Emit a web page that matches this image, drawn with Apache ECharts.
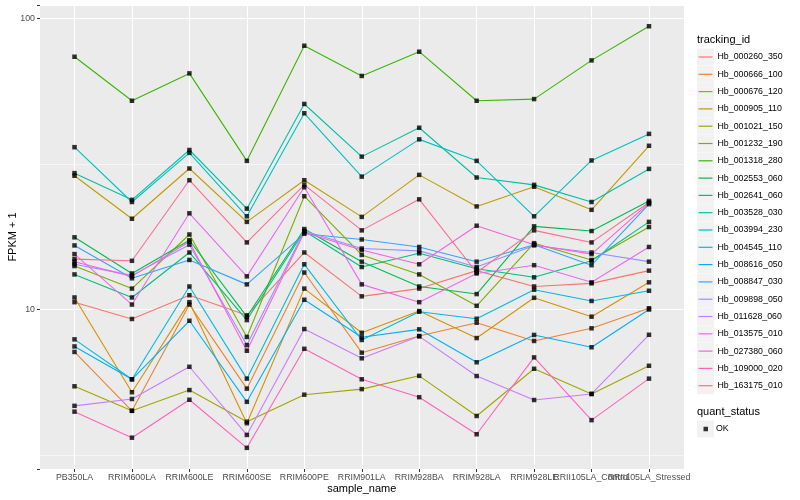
<!DOCTYPE html>
<html><head><meta charset="utf-8">
<script src="https://cdn.jsdelivr.net/npm/echarts@6/dist/echarts.min.js"></script>
<style>html,body{margin:0;padding:0;background:#fff}#c{width:800px;height:500px}</style>
</head><body><div id="c"></div>
<script>
const categories = ['PB350LA','RRIM600LA','RRIM600LE','RRIM600SE','RRIM600PE','RRIM901LA','RRIM928BA','RRIM928LA','RRIM928LE','RRII105LA_Control','RRII105LA_Stressed'];

const Hb_000260_350 = [10.6, 9.28, 11.2, 9.55, 15.7, 11.1, 11.8, 13.6, 12.0, 12.3, 13.6];
const Hb_000666_100 = [7.15, 4.49, 10.4, 5.35, 13.4, 7.11, 8.11, 9.01, 7.80, 8.62, 10.1];
const Hb_000676_120 = [11.0, 5.20, 10.6, 4.07, 11.8, 8.32, 9.88, 7.98, 10.97, 9.45, 12.4];
const Hb_000905_110 = [28.8, 20.5, 30.5, 20.0, 27.8, 20.8, 29.0, 22.6, 26.4, 22.0, 36.5];
const Hb_001021_150 = [5.45, 4.49, 5.29, 4.12, 5.10, 5.33, 5.92, 4.31, 6.26, 5.13, 6.41];
const Hb_001232_190 = [14.1, 11.8, 18.1, 8.05, 24.5, 15.4, 13.2, 10.3, 16.9, 14.8, 19.2];
const Hb_001318_280 = [73.8, 52.1, 64.7, 32.4, 80.5, 63.4, 76.8, 52.1, 52.8, 71.7, 93.9];
const Hb_002553_060 = [17.7, 13.3, 17.3, 9.45, 18.9, 14.6, 12.0, 11.3, 19.3, 18.6, 23.6];
const Hb_002641_060 = [13.2, 11.0, 15.7, 9.2, 18.6, 14.0, 15.6, 13.8, 12.9, 14.7, 20.0];
const Hb_003528_030 = [29.4, 23.8, 35.3, 22.2, 50.8, 33.5, 42.1, 28.4, 26.8, 23.4, 30.4];
const Hb_003994_230 = [36.1, 23.4, 34.5, 20.9, 47.2, 28.6, 38.4, 32.4, 20.9, 32.5, 40.1];
const Hb_004545_110 = [7.9, 5.76, 12.0, 5.79, 14.3, 7.86, 9.83, 9.30, 11.7, 10.7, 11.6];
const Hb_008616_050 = [7.47, 5.76, 9.15, 4.82, 10.8, 8.03, 8.55, 6.59, 8.18, 7.42, 10.0];
const Hb_008847_030 = [16.6, 12.8, 14.8, 12.2, 18.2, 17.4, 16.4, 14.6, 16.7, 14.2, 23.0];
const Hb_009898_050 = [14.3, 13.1, 16.7, 7.55, 18.6, 16.2, 15.9, 14.0, 16.6, 15.7, 14.6];
const Hb_011628_060 = [4.67, 4.93, 6.36, 3.71, 8.57, 6.80, 8.09, 5.91, 4.89, 5.13, 8.19];
const Hb_013575_010 = [15.5, 10.4, 21.4, 13.0, 26.3, 12.2, 10.6, 13.3, 14.2, 12.4, 16.4];
const Hb_027380_060 = [14.6, 13.0, 17.1, 7.22, 18.4, 16.0, 14.3, 19.4, 16.7, 15.5, 23.2];
const Hb_109000_020 = [4.46, 3.63, 4.90, 3.35, 7.33, 5.76, 5.00, 3.73, 6.85, 4.17, 5.79];
const Hb_163175_010 = [14.9, 14.7, 27.8, 17.0, 26.8, 18.7, 23.9, 13.4, 18.7, 17.0, 23.3];

const seriesNames = ['Hb_000260_350','Hb_000666_100','Hb_000676_120','Hb_000905_110','Hb_001021_150','Hb_001232_190','Hb_001318_280','Hb_002553_060','Hb_002641_060','Hb_003528_030','Hb_003994_230','Hb_004545_110','Hb_008616_050','Hb_008847_030','Hb_009898_050','Hb_011628_060','Hb_013575_010','Hb_027380_060','Hb_109000_020','Hb_163175_010'];
const seriesValues = [Hb_000260_350,Hb_000666_100,Hb_000676_120,Hb_000905_110,Hb_001021_150,Hb_001232_190,Hb_001318_280,Hb_002553_060,Hb_002641_060,Hb_003528_030,Hb_003994_230,Hb_004545_110,Hb_008616_050,Hb_008847_030,Hb_009898_050,Hb_011628_060,Hb_013575_010,Hb_027380_060,Hb_109000_020,Hb_163175_010];
const yTickLabels = ['10', '100'];
const minorGridValues = [3.1623, 31.623];
const statusNames = ['OK'];

const palette = ['#F8766D','#EA8331','#D89000','#C09B00','#A3A500','#7CAE00','#39B600','#00BB4E','#00BF7D','#00C1A3','#00BFC4','#00BAE0','#00B0F6','#35A2FF','#9590FF','#C77CFF','#E76BF3','#FA62DB','#FF62BC','#FF6C91'];

const FONT = 'Liberation Sans';
const Y_MIN = 2.834, Y_MAX = 111.1;

const chart = echarts.init(document.getElementById('c'), null, {renderer: 'canvas'});

const lineSeries = seriesNames.map((n, i) => ({
  name: n, type: 'line', xAxisIndex: 1, yAxisIndex: 1,
  data: seriesValues[i], showSymbol: false, symbol: 'none',
  lineStyle: {width: 1.1, color: palette[i]}, itemStyle: {color: palette[i]},
  z: 2, silent: true
}));

const pointData = [];
seriesValues.forEach(vals => vals.forEach((v, j) => pointData.push([categories[j], v])));

const keyBoxes = seriesNames.map((n, i) => ({
  type: 'rect', shape: {x: 697, y: 48.5 + i * 17.3, width: 17, height: 17},
  style: {fill: '#F2F2F2'}, silent: true, z: 0
}));
keyBoxes.push({type: 'rect', shape: {x: 697, y: 420.5, width: 17, height: 17}, style: {fill: '#F2F2F2'}, silent: true, z: 0});

function decadeLabel(v) {
  const s = String(Math.round(v));
  return yTickLabels.indexOf(s) >= 0 && Math.abs(v - Math.round(v)) < 1e-6 ? s : '';
}

const option = {
  animation: false,
  backgroundColor: '#fff',
  textStyle: {fontFamily: FONT},
  title: [
    {text: 'tracking_id', left: 697, top: 34, padding: 0, textStyle: {fontSize: 11, fontWeight: 'normal', color: '#000', fontFamily: FONT}},
    {text: 'quant_status', left: 697, top: 406, padding: 0, textStyle: {fontSize: 11, fontWeight: 'normal', color: '#000', fontFamily: FONT}}
  ],
  graphic: keyBoxes,
  legend: [
    {data: seriesNames, orient: 'vertical', left: 698.5, top: 48.5, padding: 0, itemGap: 0.3,
     itemWidth: 14, itemHeight: 17, icon: 'path://M0,0h14v1.2H0z', selectedMode: false,
     itemStyle: {borderWidth: 0},
     textStyle: {fontSize: 8.8, color: '#000', fontFamily: FONT, lineHeight: 17}},
    {data: statusNames, orient: 'vertical', left: 703.5, top: 420.5, padding: 0,
     itemWidth: 4.5, itemHeight: 4.5, icon: 'rect', selectedMode: false,
     itemStyle: {borderWidth: 0},
     textStyle: {fontSize: 8.8, color: '#000', fontFamily: FONT, lineHeight: 17, padding: [0, 0, 0, 3]}}
  ],
  grid: [
    {left: 40, right: 116, top: 5, bottom: 31, show: true, backgroundColor: '#EBEBEB', borderWidth: 0, containLabel: false, outerBoundsMode: 'none'},
    {left: 74.5, right: 151, top: 5, bottom: 31, show: false, containLabel: false, outerBoundsMode: 'none'}
  ],
  xAxis: [
    {gridIndex: 0, type: 'category', data: categories, show: false},
    {gridIndex: 1, type: 'category', data: categories, boundaryGap: false,
     axisLine: {show: false},
     axisTick: {show: true, length: 3, lineStyle: {color: '#333', width: 1}},
     axisLabel: {interval: 0, hideOverlap: false, fontSize: 8.8, color: '#4D4D4D', fontFamily: FONT, margin: 4},
     splitLine: {show: true, lineStyle: {color: '#fff', width: 1.1}},
     name: 'sample_name', nameLocation: 'middle', nameGap: 14, nameMoveOverlap: false,
     nameTextStyle: {fontSize: 11, color: '#000', fontFamily: FONT}}
  ],
  yAxis: [
    {gridIndex: 0, type: 'log', logBase: 10, min: Y_MIN, max: Y_MAX,
     axisLine: {show: false},
     axisTick: {show: true, length: 3, lineStyle: {color: '#333', width: 1}},
     axisLabel: {fontSize: 8.8, color: '#4D4D4D', fontFamily: FONT, margin: 5, formatter: decadeLabel},
     splitLine: {show: true, lineStyle: {color: '#fff', width: 1.1}},
     name: 'FPKM + 1', nameLocation: 'middle', nameGap: 22, nameRotate: 90, nameMoveOverlap: false,
     nameTextStyle: {fontSize: 11, color: '#000', fontFamily: FONT}},
    {gridIndex: 1, type: 'log', logBase: 10, min: Y_MIN, max: Y_MAX, show: false}
  ],
  series: [
    {name: '_minor', type: 'line', xAxisIndex: 0, yAxisIndex: 0, data: [], silent: true, z: 1,
     markLine: {silent: true, symbol: ['none', 'none'], label: {show: false}, z: 1,
                lineStyle: {color: '#fff', width: 0.55, type: 'solid'}, emphasis: {disabled: true},
                data: minorGridValues.map(v => ({yAxis: v}))}},
    ...lineSeries,
    {name: 'OK', type: 'scatter', xAxisIndex: 1, yAxisIndex: 1, data: pointData,
     symbol: 'rect', symbolSize: 4.5, itemStyle: {color: '#000'}, z: 3, silent: true}
  ]
};
chart.setOption(option);
</script>
</body></html>
